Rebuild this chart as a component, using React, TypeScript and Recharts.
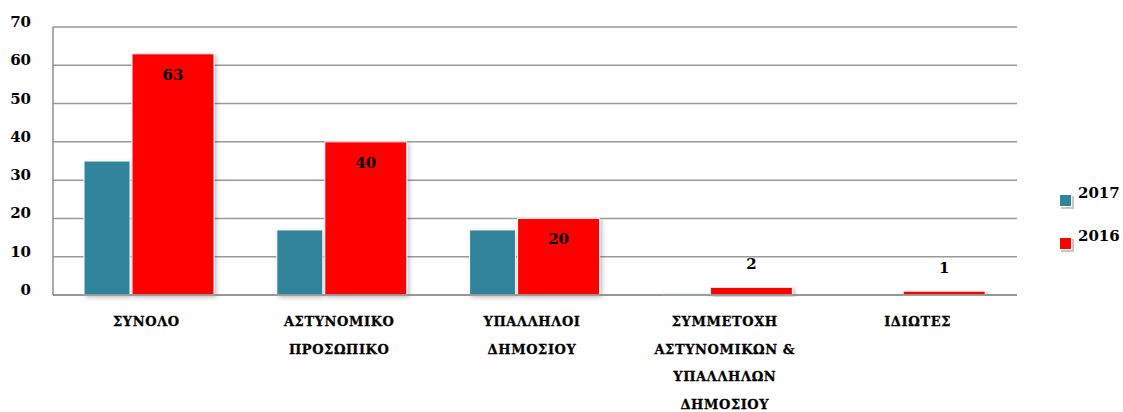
import React from "react";
import { BarChart, Bar, XAxis, YAxis, CartesianGrid, Legend, LabelList } from "recharts";

const categories = [
  "ΣΥΝΟΛΟ",
  "ΑΣΤΥΝΟΜΙΚΟ\nΠΡΟΣΩΠΙΚΟ",
  "ΥΠΑΛΛΗΛΟΙ\nΔΗΜΟΣΙΟΥ",
  "ΣΥΜΜΕΤΟΧΗ\nΑΣΤΥΝΟΜΙΚΩΝ &\nΥΠΑΛΛΗΛΩΝ\nΔΗΜΟΣΙΟΥ",
  "ΙΔΙΩΤΕΣ",
];
const values2017 = [35, 17, 17, 0.3, 0];
const values2016 = [63, 40, 20, 2, 1];
const yTicks = [0, 10, 20, 30, 40, 50, 60, 70];

const TEAL = "#31849B";
const RED = "#FF0000";
const FONT = "'DejaVu Serif', serif";

const data = categories.map((c, i) => ({ name: c, y2017: values2017[i], y2016: values2016[i] }));

const XTick = (props: any) => {
  const { x, y, payload } = props;
  const lines = String(payload.value).split("\n");
  return (
    <g>
      {lines.map((l: string, i: number) => (
        <text
          key={i}
          x={x - 3}
          y={y + 23 + i * 27.7}
          textAnchor="middle"
          fontFamily={FONT}
          fontWeight="bold"
          fontSize={13}
          letterSpacing={0.6}
          stroke="#000"
          strokeWidth={0.3}
          fill="#000"
        >
          {l}
        </text>
      ))}
    </g>
  );
};

const YTick = (props: any) => {
  const { x, y, payload } = props;
  return (
    <text x={x} y={y - 4} textAnchor="end" dominantBaseline="middle" fontFamily={FONT} fontWeight="bold" fontSize={15} fill="#000">
      {payload.value}
    </text>
  );
};

const ValueLabel = (props: any) => {
  const { x, y, width, height, value } = props;
  const cy = height > 30 ? y + 22 : y - 22;
  return (
    <text x={x + width / 2} y={cy} textAnchor="middle" dominantBaseline="middle" fontFamily={FONT} fontWeight="bold" fontSize={15} fill="#000">
      {value}
    </text>
  );
};

const LegendContent = () => {
  const items = [
    { label: "2017", color: TEAL },
    { label: "2016", color: RED },
  ];
  return (
    <div>
      {items.map((it) => (
        <div key={it.label} style={{ position: "relative", height: 43 }}>
          <svg width={16} height={16} style={{ position: "absolute", left: 0, top: 6 }}>
            <rect x={2} y={2} width={13} height={13} fill="#c8c8c8" />
            <rect x={0.5} y={0.5} width={12} height={12} fill={it.color} stroke="#fff" strokeWidth={1} />
          </svg>
          <span
            style={{
              position: "absolute",
              left: 19,
              top: -5,
              fontFamily: FONT,
              fontWeight: "bold",
              fontSize: 15,
              color: "#000",
              lineHeight: "20px",
            }}
          >
            {it.label}
          </span>
        </div>
      ))}
    </div>
  );
};

export default function App() {
  return (
    <div style={{ position: "absolute", left: 0, top: 0, width: 1123, height: 412, background: "#fff" }}>
      <BarChart
        width={1123}
        height={412}
        data={data}
        margin={{ top: 27, right: 42, bottom: 0, left: 0 }}
        barGap={2}
      >
        <defs>
          <filter id="shadow" x="-20%" y="-20%" width="140%" height="140%">
            <feDropShadow dx="2" dy="2" stdDeviation="2" floodColor="#000" floodOpacity="0.25" />
          </filter>
        </defs>
        <CartesianGrid vertical={false} stroke="#9a9a9a" strokeWidth={1.5} />
        <XAxis
          dataKey="name"
          tick={<XTick />}
          tickLine={false}
          axisLine={{ stroke: "#8c8c8c", strokeWidth: 1.5 }}
          interval={0}
          height={117}
        />
        <YAxis
          domain={[0, 70]}
          ticks={yTicks}
          width={53}
          tick={<YTick />}
          tickLine={false}
          tickSize={0}
          tickMargin={22}
          axisLine={{ stroke: "#8c8c8c", strokeWidth: 1.5 }}
        />
        <Legend
          content={<LegendContent />}
          layout="horizontal"
          align="right"
          verticalAlign="middle"
          wrapperStyle={{ left: 1059, top: 188, width: 64 }}
        />
        <Bar dataKey="y2017" fill={TEAL} barSize={46} stroke="#fff" strokeWidth={1} filter="url(#shadow)" isAnimationActive={false} />
        <Bar dataKey="y2016" fill={RED} barSize={82} stroke="#fff" strokeWidth={1} filter="url(#shadow)" isAnimationActive={false}>
          <LabelList dataKey="y2016" content={<ValueLabel />} />
        </Bar>
      </BarChart>
    </div>
  );
}
